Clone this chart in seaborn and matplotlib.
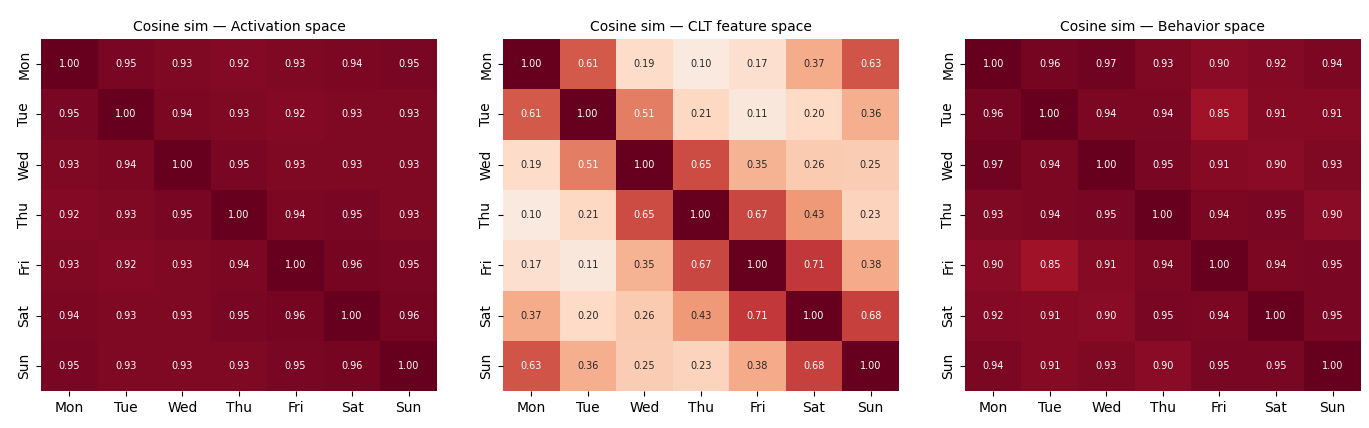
import numpy as np
import matplotlib
matplotlib.use("Agg")
import matplotlib.pyplot as plt
import seaborn as sns

days = ["Mon", "Tue", "Wed", "Thu", "Fri", "Sat", "Sun"]

activation_sim = [
    [1.00, 0.95, 0.93, 0.92, 0.93, 0.94, 0.95],
    [0.95, 1.00, 0.94, 0.93, 0.92, 0.93, 0.93],
    [0.93, 0.94, 1.00, 0.95, 0.93, 0.93, 0.93],
    [0.92, 0.93, 0.95, 1.00, 0.94, 0.95, 0.93],
    [0.93, 0.92, 0.93, 0.94, 1.00, 0.96, 0.95],
    [0.94, 0.93, 0.93, 0.95, 0.96, 1.00, 0.96],
    [0.95, 0.93, 0.93, 0.93, 0.95, 0.96, 1.00],
]

clt_sim = [
    [1.00, 0.61, 0.19, 0.10, 0.17, 0.37, 0.63],
    [0.61, 1.00, 0.51, 0.21, 0.11, 0.20, 0.36],
    [0.19, 0.51, 1.00, 0.65, 0.35, 0.26, 0.25],
    [0.10, 0.21, 0.65, 1.00, 0.67, 0.43, 0.23],
    [0.17, 0.11, 0.35, 0.67, 1.00, 0.71, 0.38],
    [0.37, 0.20, 0.26, 0.43, 0.71, 1.00, 0.68],
    [0.63, 0.36, 0.25, 0.23, 0.38, 0.68, 1.00],
]

behavior_sim = [
    [1.00, 0.96, 0.97, 0.93, 0.90, 0.92, 0.94],
    [0.96, 1.00, 0.94, 0.94, 0.85, 0.91, 0.91],
    [0.97, 0.94, 1.00, 0.95, 0.91, 0.90, 0.93],
    [0.93, 0.94, 0.95, 1.00, 0.94, 0.95, 0.90],
    [0.90, 0.85, 0.91, 0.94, 1.00, 0.94, 0.95],
    [0.92, 0.91, 0.90, 0.95, 0.94, 1.00, 0.95],
    [0.94, 0.91, 0.93, 0.90, 0.95, 0.95, 1.00],
]

titles = [
    "Cosine sim \u2014 Activation space",
    "Cosine sim \u2014 CLT feature space",
    "Cosine sim \u2014 Behavior space",
]

fig, axes = plt.subplots(1, 3, figsize=(13.69, 4.28), dpi=100)
fig.subplots_adjust(left=0.030, right=0.994, top=0.909, bottom=0.086, wspace=0.167)

for ax, mat, title in zip(axes, [activation_sim, clt_sim, behavior_sim], titles):
    sns.heatmap(np.array(mat), ax=ax, cmap="RdBu_r", vmin=-1, vmax=1,
                annot=True, fmt=".2f", annot_kws={"size": 7}, cbar=False,
                xticklabels=days, yticklabels=days)
    ax.set_title(title, fontsize=10)
    ax.tick_params(axis="both", labelsize=10)

plt.savefig("out.png", dpi=100)
